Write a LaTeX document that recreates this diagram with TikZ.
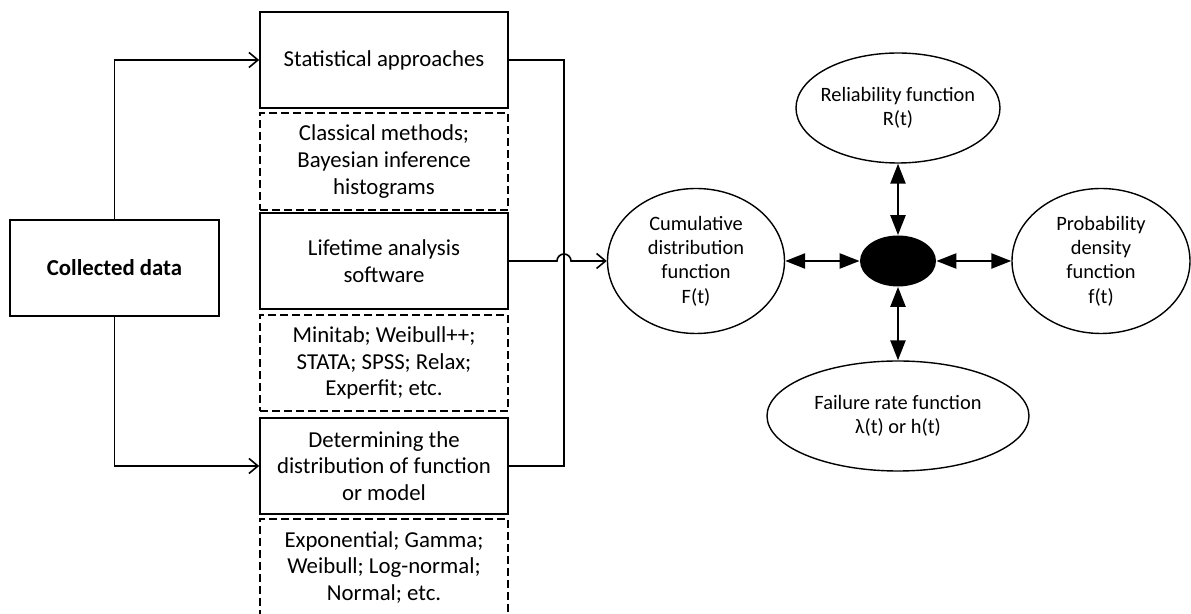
\documentclass[tikz,border=0pt]{standalone}
\usepackage{fontspec}
\setmainfont{Carlito}
\usetikzlibrary{shapes.geometric,arrows.meta}
\tikzset{
  box/.style={draw, line width=0.8pt, minimum width=124pt, minimum height=48pt,
    align=center, inner sep=2pt, font=\fontsize{11.4}{13.3}\selectfont},
  dbox/.style={box, dash pattern=on 4pt off 2pt},
  oval/.style={ellipse, draw, line width=0.7pt, inner sep=0pt, align=center,
    font=\fontsize{10.2}{12.2}\selectfont},
  link/.style={line width=0.8pt, -{Straight Barb[length=4.5pt,width=7.5pt]}},
  dbl/.style={line width=1.2pt,
    {Triangle[length=10pt,width=7.5pt]}-{Triangle[length=10pt,width=7.5pt]}},
}
\begin{document}
\begin{tikzpicture}[x=0.5pt, y=-0.5pt]
    \useasboundingbox (0,0) rectangle (1191,614);

    % 数据
    \node[box, minimum width=104.5pt, font=\fontsize{11.4}{13.3}\selectfont\bfseries] (data) at (114.5,268) {Collected data};

    % 中间一列
    \node[box] (stat) at (384,60) {Statistical approaches};
    \node[dbox, minimum height=48.5pt] (cls) at (384,161.5) {Classical methods;\\Bayesian inference\\histograms};
    \node[box] (soft) at (384,261) {Lifetime analysis\\software};
    \node[dbox] (pkg) at (384,363) {Minitab; Weibull++;\\STATA; SPSS; Relax;\\Experfit; etc.};
    \node[box] (dist) at (384,466) {Determining the\\distribution of function\\or model};
    \node[dbox, minimum height=48.5pt] (fam) at (384,567.5) {Exponential; Gamma;\\Weibull; Log-normal;\\Normal; etc.};

    % 函数
    \node[oval, minimum width=88.5pt, minimum height=72.5pt] (cdf) at (696,261) {Cumulative\\distribution\\function\\F(t)};
    \node[ellipse, fill=black, minimum width=38pt, minimum height=25.5pt, inner sep=0pt] (hub) at (898,261) {};
    \node[oval, inner xsep=-4pt, minimum width=102pt, minimum height=55pt] (rel) at (898,108) {Reliability function\\R(t)};
    \node[oval, minimum width=89pt, minimum height=72.5pt] (pdf) at (1101,261) {Probability\\density\\function\\f(t)};
    \node[oval, minimum width=131pt, minimum height=55pt] (haz) at (898,416) {Failure rate function\\λ(t) or h(t)};

    % 连线
    \draw[link] (data.north) |- (stat.west);
    \draw[link] (data.south) |- (dist.west);
    \coordinate (rail) at (564,261);
    \draw[line width=0.8pt] (stat.east) -| (rail) |- (dist.east);
    \draw[link] (soft.east) -- ([xshift=-3.5pt]rail) arc[start angle=180, end angle=0, radius=3.5pt] -- (cdf.west);

    % 双向箭头
    \draw[dbl] (cdf) -- (hub);
    \draw[dbl] (hub) -- (pdf);
    \draw[dbl] (rel) -- (hub);
    \draw[dbl] (hub) -- (haz);
\end{tikzpicture}
\end{document}
